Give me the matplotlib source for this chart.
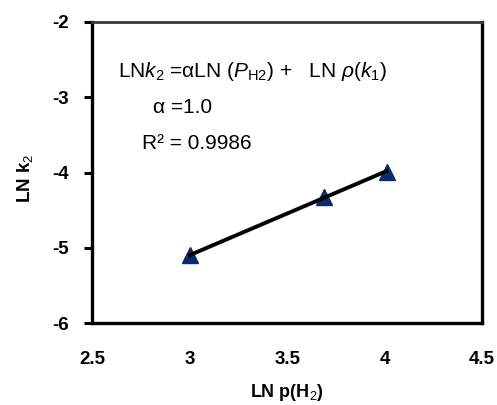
import numpy as np
import matplotlib
matplotlib.use("Agg")
import matplotlib.pyplot as plt

plt.rcParams['font.family'] = ['Liberation Sans', 'DejaVu Sans']
plt.rcParams['mathtext.fontset'] = 'custom'
plt.rcParams['mathtext.rm'] = 'Liberation Sans'
plt.rcParams['mathtext.it'] = 'Liberation Sans:italic'
plt.rcParams['mathtext.bf'] = 'Liberation Sans:bold'

ln_pH2 = [3.00, 3.69, 4.01]
ln_k2 = [-5.10, -4.32, -3.99]
x_ticks = [2.5, 3, 3.5, 4, 4.5]
x_tick_labels = ['2.5', '3', '3.5', '4', '4.5']
y_ticks = [-6, -5, -4, -3, -2]
y_tick_labels = ['-6', '-5', '-4', '-3', '-2']

fig = plt.figure(figsize=(4.97, 4.05), dpi=100)
ax = fig.add_axes([0.186, 0.202, 0.784, 0.744])

# trend line from least-squares fit
coef = np.polyfit(ln_pH2, ln_k2, 1)
xs = np.array([min(ln_pH2), max(ln_pH2)])
ax.plot(xs, np.polyval(coef, xs), color='black', lw=2.8, zorder=3)
ax.plot(ln_pH2, ln_k2, linestyle='none', marker='^', markersize=11.5,
        color='#0d2a6e', zorder=2)

ax.set_xlim(2.5, 4.5)
ax.set_ylim(-6, -2)
ax.set_xticks(x_ticks)
ax.set_xticklabels(x_tick_labels)
ax.set_yticks(y_ticks)
ax.set_yticklabels(y_tick_labels)
ax.tick_params(axis='x', length=0, pad=20, labelsize=13.5)
ax.tick_params(axis='y', direction='out', length=6, width=2.2, pad=11, labelsize=13.5)
for lab in ax.get_xticklabels() + ax.get_yticklabels():
    lab.set_fontweight('bold')

for side in ['left', 'bottom', 'right']:
    ax.spines[side].set_linewidth(2.4)
    ax.spines[side].set_color('black')
ax.spines['top'].set_linewidth(2.0)
ax.spines['top'].set_color('#3a3a3a')

ax.set_xlabel('LN p(H$_2$)', fontsize=13, fontweight='bold', labelpad=10)
ax.set_ylabel('LN k$_2$', fontsize=13.5, fontweight='bold', labelpad=12)
ax.yaxis.set_label_coords(-0.148, 0.48)

ax.text(118, 405 - 77, r'LN$k_2$ =αLN ($P_{\mathrm{H2}}$) +   LN $\rho$($k_1$)',
        transform=None, fontsize=15)
ax.text(153, 405 - 113, 'α =1.0', transform=None, fontsize=15)
ax.text(142, 405 - 149, 'R² = 0.9986', transform=None, fontsize=15)

fig.savefig('out.png', dpi=100)
